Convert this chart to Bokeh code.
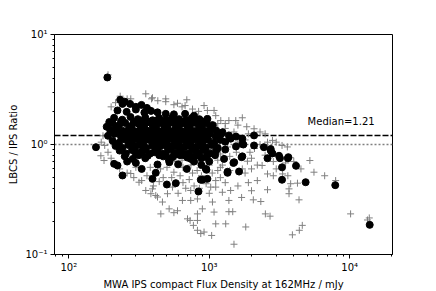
from bokeh.plotting import figure
from bokeh.models import Span, Label, CustomJSTickFormatter, FixedTicker
from bokeh.embed import file_html
from bokeh.resources import INLINE

# ---- data ----
MEDIAN = 1.21
X_LABEL = "MWA IPS compact Flux Density at 162MHz / mJy"
Y_LABEL = "LBCS / IPS Ratio"
X_MAJOR = [100, 1000, 10000]
X_MINOR = [80, 90, 200, 300, 400, 500, 600, 700, 800, 900,
           2000, 3000, 4000, 5000, 6000, 7000, 8000, 9000, 20000]
Y_MAJOR = [0.1, 1, 10]
Y_MINOR = [0.2, 0.3, 0.4, 0.5, 0.6, 0.7, 0.8, 0.9, 2, 3, 4, 5, 6, 7, 8, 9]

# black circles: (flux mJy, ratio)
black_top = [(188, 4.07), (232, 2.55), (241, 2.34), (273, 2.34), (329, 2.29),
             (250, 2.45), (300, 2.2), (360, 2.15)]
black_row_a = [(222, 2.04), (258, 1.98), (300, 2.08), (345, 1.95), (385, 2.02),
               (428, 1.96), (490, 1.9), (560, 1.88), (673, 1.9), (780, 1.83)]
black_row_b = [(194, 1.6), (210, 1.75), (240, 1.68), (275, 1.78), (310, 1.7),
               (350, 1.76), (395, 1.66), (440, 1.74), (490, 1.68), (545, 1.76),
               (610, 1.7), (680, 1.66), (750, 1.74), (850, 1.7), (970, 1.71)]
black_row_c = [(186, 1.45), (205, 1.55), (228, 1.5), (252, 1.57), (280, 1.48),
               (312, 1.55), (345, 1.5), (380, 1.58), (420, 1.48), (460, 1.56),
               (505, 1.5), (555, 1.57), (610, 1.48), (665, 1.55), (730, 1.5),
               (800, 1.57), (880, 1.48), (960, 1.55), (1060, 1.5)]
black_row_d = [(198, 1.35), (218, 1.42), (242, 1.33), (268, 1.4), (296, 1.32),
               (325, 1.41), (358, 1.34), (395, 1.42), (435, 1.32), (478, 1.4),
               (525, 1.33), (578, 1.41), (635, 1.32), (700, 1.4), (770, 1.33),
               (845, 1.41), (930, 1.33), (1020, 1.4), (1120, 1.34), (1241, 1.29)]
black_row_e = [(190, 1.2), (212, 1.25), (235, 1.18), (262, 1.26), (290, 1.19),
               (320, 1.25), (352, 1.17), (388, 1.24), (428, 1.18), (470, 1.26),
               (518, 1.19), (570, 1.25), (628, 1.17), (690, 1.24), (760, 1.18),
               (835, 1.26), (920, 1.19), (1010, 1.25), (1110, 1.18), (1210, 1.24),
               (1380, 1.21), (1550, 1.18), (2085, 1.21)]
black_row_f = [(205, 1.08), (228, 1.04), (252, 1.11), (280, 1.05), (308, 1.12),
               (340, 1.04), (375, 1.1), (412, 1.03), (455, 1.11), (500, 1.05),
               (552, 1.12), (608, 1.04), (670, 1.1), (738, 1.03), (812, 1.11),
               (895, 1.05), (985, 1.1), (1085, 1.04), (1200, 1.1), (1420, 1.13),
               (1720, 1.13), (1300, 1.06)]
black_row_g = [(156, 0.945), (215, 0.97), (240, 0.93), (265, 0.99), (292, 0.94),
               (322, 1.0), (355, 0.93), (392, 0.98), (432, 0.94), (476, 1.0),
               (525, 0.93), (580, 0.97), (640, 0.94), (705, 1.0), (778, 0.93),
               (858, 0.98), (945, 0.94), (1040, 0.99), (1150, 0.93), (1720, 1.01),
               (1750, 1.0), (2085, 0.98), (2450, 0.945), (1550, 0.96)]
black_row_h = [(230, 0.88), (255, 0.83), (282, 0.89), (312, 0.84), (345, 0.9),
               (380, 0.83), (405, 0.85), (420, 0.89), (462, 0.83), (510, 0.9),
               (562, 0.84), (620, 0.89), (683, 0.83), (752, 0.9), (830, 0.84),
               (915, 0.89), (1010, 0.83), (1120, 0.88), (1300, 0.9), (2740, 0.91),
               (2740, 0.88), (2820, 0.83)]
black_row_i = [(250, 0.78), (285, 0.74), (315, 0.8), (350, 0.75), (470, 0.78),
               (515, 0.73), (547, 0.767), (620, 0.8), (700, 0.76), (740, 0.74),
               (800, 0.79), (880, 0.75), (950, 0.77), (1100, 0.8), (1275, 0.74),
               (1700, 0.767), (1720, 0.78), (2600, 0.75), (3140, 0.79), (3190, 0.75),
               (3630, 0.75), (3660, 0.767)]
black_row_j = [(210, 0.667), (222, 0.645), (260, 0.7), (300, 0.68), (428, 0.658),
               (520, 0.69), (600, 0.66), (692, 0.6), (780, 0.7), (880, 0.65),
               (1000, 0.7), (1486, 0.68), (1505, 0.69), (3300, 0.62), (4150, 0.64)]
black_row_k = [(241, 0.523), (330, 0.6), (416, 0.553), (945, 0.6), (955, 0.589),
               (1350, 0.565), (1350, 0.553), (1630, 0.568)]
black_low = [(394, 0.487), (499, 0.433), (578, 0.445), (870, 0.478), (893, 0.478),
             (970, 0.487), (3300, 0.478), (4860, 0.454), (7900, 0.427), (838, 0.374),
             (13900, 0.186)]
black_core = [(235, 1.62), (290, 1.6), (330, 1.63), (370, 1.61), (415, 1.64),
              (465, 1.6), (520, 1.63), (580, 1.62), (640, 1.6), (710, 1.63),
              (790, 1.61), (900, 1.62),
              (225, 1.28), (275, 1.3), (305, 1.27), (340, 1.29), (375, 1.28),
              (410, 1.3), (455, 1.27), (500, 1.29), (545, 1.28), (600, 1.3),
              (660, 1.27), (725, 1.29), (800, 1.28), (880, 1.3), (970, 1.28),
              (240, 1.14), (265, 1.15), (325, 1.14), (360, 1.15), (395, 1.13),
              (440, 1.15), (485, 1.14), (535, 1.15), (590, 1.13), (650, 1.15),
              (710, 1.14), (785, 1.13), (865, 1.15), (950, 1.14),
              (300, 0.97), (335, 0.96), (410, 0.97), (450, 0.97), (500, 0.96),
              (555, 0.98), (610, 0.97), (675, 0.96), (740, 0.97), (820, 0.96),
              (900, 0.97),
              (300, 0.81), (330, 0.85), (365, 0.79), (440, 0.8), (490, 0.82),
              (580, 0.81), (660, 0.8), (720, 0.82), (850, 0.8), (980, 0.81)]

# gray pluses: (flux mJy, ratio)
gray_upper = [(190, 4.3), (232, 2.75), (276, 2.6), (353, 2.89), (388, 2.6), (394, 2.66),
              (430, 2.5), (490, 2.6), (490, 2.45), (560, 2.3), (594, 2.37), (640, 2.2),
              (692, 2.55), (673, 2.26), (760, 2.1), (840, 2.0), (918, 2.26), (970, 2.04),
              (1082, 2.04), (1112, 1.83), (1208, 1.65), (1300, 1.55), (1380, 1.65),
              (1545, 1.65), (1720, 1.75), (1600, 1.5), (1850, 1.45), (2085, 1.39),
              (2300, 1.3), (2500, 1.25), (2820, 1.09), (3000, 1.05), (3300, 0.98),
              (3600, 0.95), (186, 1.39), (175, 1.2), (170, 1.05), (180, 0.98),
              (200, 2.2), (215, 2.4), (260, 2.6)]
gray_mid = [(1150, 0.72), (1240, 0.65), (1400, 0.78), (1560, 0.85), (1720, 0.6),
            (1870, 0.705), (1950, 0.85), (2100, 0.92), (2200, 0.65), (2380, 0.645),
            (2500, 0.8), (2860, 0.7), (3000, 0.6), (3800, 0.757), (3500, 0.68),
            (4000, 0.7), (4500, 0.6), (5210, 0.715), (5570, 0.56), (6640, 0.52),
            (7950, 0.47), (4250, 0.445), (3800, 0.44), (3630, 0.52), (3330, 0.54),
            (2860, 0.52), (2600, 0.54), (2200, 0.47), (1112, 0.47), (800, 0.7),
            (950, 0.82), (1050, 0.9), (1200, 0.82), (1350, 0.95), (1600, 1.05),
            (1800, 1.1), (2300, 1.0), (2000, 0.75), (1500, 1.3), (1300, 1.4),
            (1150, 1.55), (1000, 1.62), (1250, 1.2), (1900, 1.25), (2600, 1.05),
            (640, 0.72), (580, 0.7), (380, 0.62), (300, 0.62), (230, 0.6),
            (200, 0.75), (190, 0.85), (1000, 0.65), (450, 0.6), (500, 0.62),
            (650, 0.62), (740, 0.65), (850, 0.68), (1200, 0.62), (1400, 0.58),
            (1800, 0.55), (2000, 0.6)]
gray_low = [(1024, 0.41), (1420, 0.382), (1240, 0.368), (1380, 0.31), (1054, 0.3),
            (1082, 0.243), (1380, 0.245), (1470, 0.245), (1310, 0.19), (1040, 0.149),
            (1500, 0.124), (1820, 0.178), (2510, 0.234), (2710, 0.223), (2060, 0.314),
            (2330, 0.303), (2600, 0.388), (3700, 0.395), (3700, 0.357), (4360, 0.314),
            (4600, 0.184), (4380, 0.166), (3910, 0.151), (10160, 0.234), (13400, 0.206),
            (13800, 0.215), (893, 0.26), (870, 0.155), (918, 0.16), (824, 0.166),
            (771, 0.184), (730, 0.204), (700, 0.211), (824, 0.234), (824, 0.204),
            (1112, 0.19), (594, 0.25), (518, 0.26), (452, 0.234), (560, 0.24),
            (464, 0.3), (504, 0.357), (416, 0.344), (394, 0.395), (428, 0.333),
            (384, 0.357), (353, 0.382), (316, 0.454), (276, 0.545), (178, 0.715),
            (169, 0.79), (644, 0.31), (738, 0.31), (824, 0.32), (547, 0.41),
            (738, 0.382), (1112, 0.41), (600, 0.36), (680, 0.4), (780, 0.42),
            (850, 0.4), (950, 0.44), (1000, 0.36), (1200, 0.5), (1300, 0.45),
            (1600, 0.42), (1900, 0.45), (2000, 0.38), (1700, 0.33), (260, 0.55),
            (290, 0.5), (330, 0.47), (360, 0.52), (400, 0.42), (440, 0.46),
            (470, 0.5), (540, 0.5), (560, 0.56), (620, 0.52), (650, 0.45),
            (720, 0.48), (760, 0.55), (820, 0.58), (880, 0.52), (1050, 0.55),
            (1150, 0.58)]

black_pts = (black_top + black_row_a + black_row_b + black_row_c + black_row_d +
             black_row_e + black_row_f + black_row_g + black_row_h + black_row_i +
             black_row_j + black_row_k + black_low + black_core)
gray_pts = gray_upper + gray_mid + gray_low

bx = [p_[0] for p_ in black_pts]
by = [p_[1] for p_ in black_pts]
gx = [p_[0] for p_ in gray_pts]
gy = [p_[1] for p_ in gray_pts]

FONT = "DejaVu Sans"

p = figure(x_axis_type="log", y_axis_type="log",
           x_range=(79, 20200), y_range=(0.1, 10),
           frame_width=338, frame_height=220,
           min_border_left=54, min_border_top=34,
           min_border_right=30, min_border_bottom=36,
           output_backend="svg", toolbar_location=None)

p.background_fill_color = "white"
p.border_fill_color = "white"
p.outline_line_color = "black"
p.outline_line_width = 1
p.outline_line_alpha = 1
p.xgrid.visible = False
p.ygrid.visible = False

sup_fmt = CustomJSTickFormatter(code="""
const e = Math.round(Math.log10(tick));
const sup = {"-":"\u207b","0":"\u2070","1":"\u00b9","2":"\u00b2","3":"\u00b3","4":"\u2074"};
return "10" + String(e).split("").map(c => sup[c]).join("");
""")

p.xaxis[0].ticker = FixedTicker(ticks=X_MAJOR, minor_ticks=X_MINOR)
p.yaxis[0].ticker = FixedTicker(ticks=Y_MAJOR, minor_ticks=Y_MINOR)

for ax in (p.xaxis[0], p.yaxis[0]):
    ax.formatter = sup_fmt
    ax.axis_line_color = "black"
    ax.major_tick_line_color = "black"
    ax.minor_tick_line_color = "black"
    ax.major_tick_out = 4
    ax.major_tick_in = 0
    ax.minor_tick_out = 2
    ax.minor_tick_in = 0
    ax.major_label_text_font = FONT
    ax.major_label_text_font_size = "10px"
    ax.major_label_text_color = "black"
    ax.major_label_standoff = 3
    ax.axis_label_text_font = FONT
    ax.axis_label_text_font_size = "10px"
    ax.axis_label_text_font_style = "normal"
    ax.axis_label_text_color = "black"
    ax.axis_label_standoff = 3

p.xaxis.axis_label = X_LABEL
p.yaxis.axis_label = Y_LABEL

p.add_layout(Span(location=MEDIAN, dimension="width", line_color="black",
                  line_dash="6 2", line_width=1.5, level="underlay"))
p.add_layout(Span(location=1.0, dimension="width", line_color="gray",
                  line_dash="2 2", line_width=1.5, level="underlay"))

p.scatter(gx, gy, marker="cross", size=7, line_color="#808080", line_width=1)
p.scatter(bx, by, marker="circle", size=7, fill_color="black", line_color="black")

p.add_layout(Label(x=5020, y=1.61, text="Median=%.2f" % MEDIAN,
                   text_font=FONT, text_font_size="10px", text_color="black",
                   text_align="left", text_baseline="middle"))

open("out.html", "w", encoding="utf-8").write(file_html(p, INLINE))
